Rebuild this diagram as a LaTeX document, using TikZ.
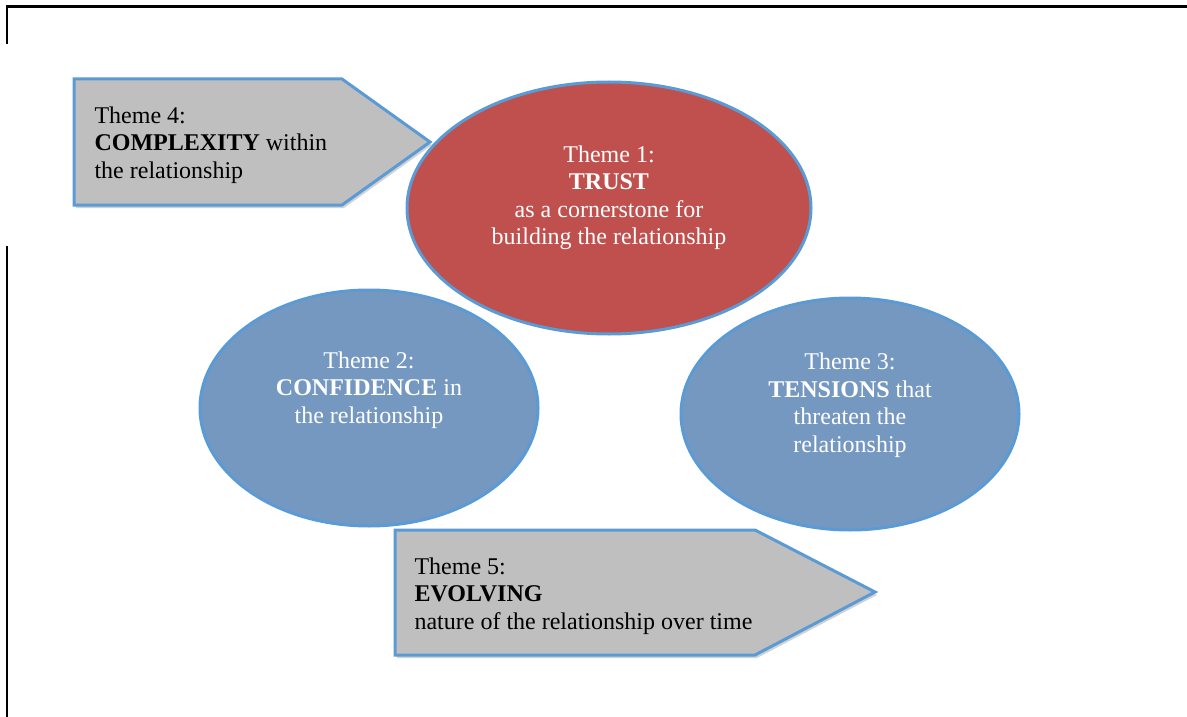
\documentclass[tikz,border=0pt]{standalone}
\usepackage{fontspec}
\setmainfont{Liberation Serif}
\usetikzlibrary{shadows,shapes.geometric}
\definecolor{redfill}{HTML}{C0504D}
\definecolor{bluefill}{HTML}{7598C1}
\definecolor{edgeblue}{HTML}{5B9BD5}
\definecolor{grayfill}{HTML}{BFBFBF}
\begin{document}
\begin{tikzpicture}[x=1pt,y=-1pt,
  ell/.style={draw=edgeblue,line width=3pt,ellipse,inner sep=0pt},
  arrowbox/.style={draw=edgeblue,fill=grayfill,line width=3pt,line join=miter,
     drop shadow={shadow xshift=2pt,shadow yshift=-3pt,opacity=0.35}},
  etext/.style={text=white,font=\fontsize{24}{27.5}\selectfont,align=center},
  atext/.style={text=black,font=\fontsize{24}{27.5}\selectfont,align=left,anchor=west}]
\useasboundingbox (0,0) rectangle (1187,717);
\fill[white] (0,0) rectangle (1187,717);
% page border fragments
\draw[line width=2.4pt] (7,44) -- (7,6.5) -- (1187,6.5);
\draw[line width=2.4pt] (7,246) -- (7,717);
% Theme 4 arrow
\draw[arrowbox] (74,79) -- (342,79) -- (430,142) -- (342,205) -- (74,205) -- cycle;
\node[atext] (t4) at (91,145) {Theme 4:\\\textbf{COMPLEXITY} within\\the relationship};
% Theme 5 arrow
\draw[arrowbox] (395,530) -- (755,530) -- (875,592) -- (755,655) -- (395,655) -- cycle;
\node[atext] (t5) at (411,596) {Theme 5:\\\textbf{EVOLVING}\\nature of the relationship over time};
% ellipses
\node[ell,fill=redfill,minimum width=404pt,minimum height=252pt] (e1) at (609,208) {};
\node[etext] (t1) at (609,198) {Theme 1:\\\textbf{TRUST}\\as a cornerstone for\\building the relationship};
\node[ell,fill=bluefill,minimum width=338pt,minimum height=236pt] (e2) at (369,408) {};
\node[etext] (t2) at (369,390) {Theme 2:\\\textbf{CONFIDENCE} in\\the relationship};
\node[ell,fill=bluefill,minimum width=338pt,minimum height=232pt] (e3) at (850,414) {};
\node[etext] (t3) at (850,405) {Theme 3:\\\textbf{TENSIONS} that\\threaten the\\relationship};
\end{tikzpicture}
\end{document}
